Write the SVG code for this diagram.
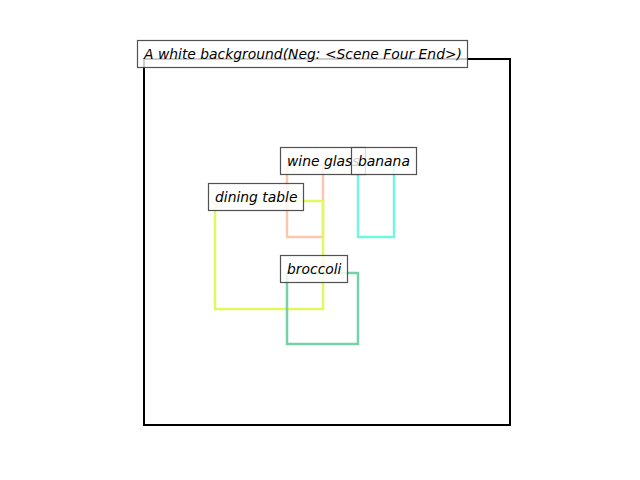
<svg xmlns="http://www.w3.org/2000/svg" width="640" height="480" viewBox="0 0 640 480">
<style>
.box{fill:none;stroke-width:2.5;}
.lbl rect{fill:#ffffff;fill-opacity:0.8;stroke:#3f3f3f;stroke-opacity:0.9;stroke-width:1.2;}
.lbl text{font-family:"DejaVu Sans",sans-serif;font-style:italic;font-size:13.89px;fill:#000;}
</style>
<rect width="640" height="480" fill="#ffffff"/>
<g id="axes"><rect x="144" y="59" width="366" height="366" fill="none" stroke="#000" stroke-width="2"/></g>
<g id="connectors"></g>
<g id="box-wine-glass"><rect class="box" x="287" y="165" width="36" height="72" stroke="#fdc6ae"/></g>
<g id="box-banana"><rect class="box" x="358" y="165" width="36" height="72" stroke="#72f8df"/></g>
<g id="box-dining-table"><rect class="box" x="215" y="201" width="108" height="108" stroke="#e1f85f"/></g>
<g id="box-broccoli"><rect class="box" x="287" y="273" width="71" height="71" stroke="#78d0a8"/></g>
<g id="label-title" class="lbl"><rect x="137.5" y="40.5" width="330" height="27"/><text x="144" y="59">A white background(Neg: &lt;Scene Four End&gt;)</text></g>
<g id="label-wine-glass" class="lbl"><rect x="280.5" y="147.5" width="85" height="27"/><text x="287" y="166">wine glass</text></g>
<g id="label-banana" class="lbl"><rect x="351.5" y="147.5" width="65" height="27"/><text x="358" y="166">banana</text></g>
<g id="label-dining-table" class="lbl"><rect x="208.5" y="183.5" width="95" height="27"/><text x="215" y="202">dining table</text></g>
<g id="label-broccoli" class="lbl"><rect x="280.5" y="255.5" width="67" height="27"/><text x="287" y="274">broccoli</text></g>
</svg>
